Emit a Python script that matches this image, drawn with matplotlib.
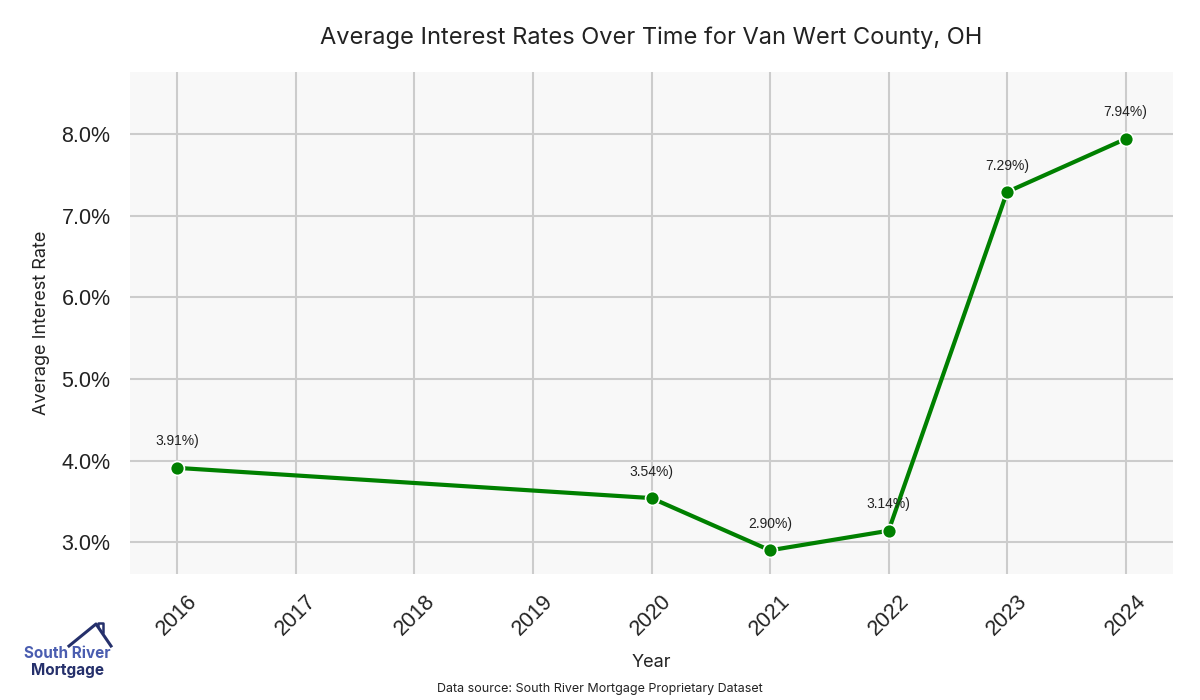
import matplotlib.pyplot as plt
from matplotlib.lines import Line2D
from matplotlib.ticker import FuncFormatter

YEARS = [2016, 2020, 2021, 2022, 2023, 2024]
RATES = [3.91, 3.54, 2.90, 3.14, 7.29, 7.94]
TICK_YEARS = list(range(2016, 2025))

TITLE = "Average Interest Rates Over Time for Van Wert County, OH"
SOURCE = "Data source: South River Mortgage Proprietary Dataset"

plt.rcParams["font.family"] = ["Inter", "DejaVu Sans"]
ARIAL = ["Liberation Sans", "DejaVu Sans"]

fig = plt.figure(figsize=(12, 7), dpi=100)
ax = fig.add_axes([130 / 1200, 1 - 574 / 700, (1173 - 130) / 1200, (574 - 72) / 700])
ax.set_facecolor("#f8f8f8")
for s in ax.spines.values():
    s.set_visible(False)
ax.grid(True, color="#cccccc", linewidth=1.5)
ax.set_axisbelow(True)

ax.plot(YEARS, RATES, color="#008000", linewidth=3, marker="o", markersize=10,
        markeredgecolor="white", markeredgewidth=1.2, zorder=3)
for x, y in zip(YEARS, RATES):
    ax.annotate(f"{y:.2f}%)", (x, y), xytext=(0, 14), textcoords="offset points",
                ha="center", va="bottom", fontsize=10, color="#222222", family=ARIAL)

ax.set_xlim(2015.6, 2024.4)
ax.set_ylim(2.61, 8.76)
ax.set_xticks(TICK_YEARS)
ax.set_xticklabels([str(y) for y in TICK_YEARS], rotation=45, fontsize=15.5,
                   color="#222222", family=ARIAL)
ax.set_yticks([3, 4, 5, 6, 7, 8])
ax.yaxis.set_major_formatter(FuncFormatter(lambda v, p: f"{v:.1f}%"))
for lab in ax.get_yticklabels():
    lab.set_family(ARIAL)
ax.tick_params(axis="y", labelsize=15.5, colors="#222222", length=0, pad=14)
ax.tick_params(axis="x", length=0, pad=12)
ax.set_xlabel("Year", fontsize=13, color="#222222", labelpad=10)
ax.set_ylabel("Average Interest Rate", fontsize=13, color="#222222", labelpad=8)

fig.text(651 / 1200, 1 - 38 / 700, TITLE, ha="center", va="center", fontsize=17, color="#222222")
fig.text(600 / 1200, 1 - 689 / 700, SOURCE, ha="center", va="center", fontsize=9, color="#222222")

# logo
navy = "#25306b"
fig.text(67 / 1200, 1 - 653 / 700, "South River", ha="center", va="center", fontsize=11,
         color="#4a5db0", weight="bold")
fig.text(67 / 1200, 1 - 670 / 700, "Mortgage", ha="center", va="center", fontsize=11,
         color=navy, weight="bold")
hx = [69, 96, 111]
hy = [646, 624, 646]
fig.add_artist(Line2D([h / 1200 for h in hx], [1 - h / 700 for h in hy], color=navy, linewidth=2.2))
fig.add_artist(Line2D([98 / 1200, 98 / 1200, 103 / 1200, 103 / 1200],
                      [1 - 626 / 700, 1 - 623 / 700, 1 - 623 / 700, 1 - 632 / 700],
                      color=navy, linewidth=1.8))

fig.savefig("out.png", dpi=100)
